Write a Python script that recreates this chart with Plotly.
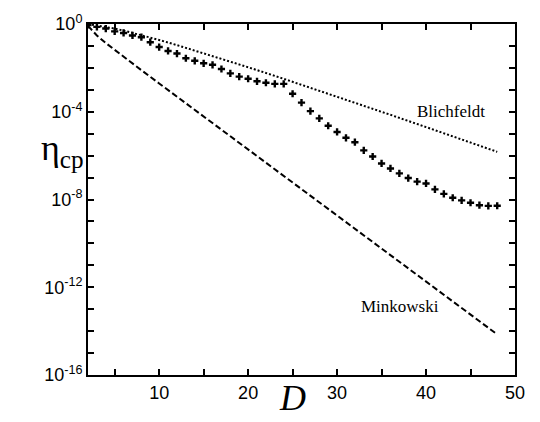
import plotly.graph_objects as go

# Dimension values
D_cross = list(range(2, 49))
eta_cross = [0.907, 0.74, 0.62, 0.46, 0.39, 0.30, 0.25, 0.148, 0.089, 0.059,
             0.045, 0.0275, 0.021, 0.0162, 0.0138, 0.0089, 0.0056, 0.0040, 0.0032, 0.00245,
             0.0021, 0.00186, 0.00186, 6.6e-4, 2.6e-4, 1.07e-4, 5.0e-5, 2.3e-5, 1.2e-5, 6.5e-6,
             4.1e-6, 1.74e-6, 9.1e-7, 4.4e-7, 2.6e-7, 1.55e-7, 9.5e-8, 6.5e-8, 5.4e-8, 2.9e-8,
             1.8e-8, 1.2e-8, 9.1e-9, 7.1e-9, 5.5e-9, 5.1e-9, 5.2e-9]

D_line = [2, 3, 4, 5, 6, 8, 10, 12, 16, 20, 24, 28, 32, 36, 40, 44, 48]
eta_minkowski = [0.822, 0.30, 0.135, 0.0649, 0.0318, 7.85e-3, 1.95e-3, 4.89e-4, 3.05e-5,
                 1.91e-6, 1.19e-7, 7.45e-9, 4.66e-10, 2.91e-11, 1.82e-12, 1.14e-13, 7.1e-15]
eta_blichfeldt = [1.0, 0.866, 0.75, 0.619, 0.5, 0.3125, 0.1875, 0.109, 0.0352,
                  0.0107, 3.17e-3, 9.16e-4, 2.59e-4, 7.25e-5, 2.0e-5, 5.48e-6, 1.49e-6]

x_ticks = [5, 10, 15, 20, 25, 30, 35, 40, 45, 50]
x_ticktext = ["", "10", "", "20", "", "30", "", "40", "", "50"]
y_exps = list(range(0, -17, -1))
y_ticks = [10.0 ** e for e in y_exps]
y_ticktext = [("10<sup>%d</sup>" % e) if e % 4 == 0 else "" for e in y_exps]

fig = go.Figure()
fig.add_trace(go.Scatter(x=D_line, y=eta_blichfeldt, mode="lines",
                         line=dict(color="black", width=2, dash="2px,2px")))
fig.add_trace(go.Scatter(x=D_line, y=eta_minkowski, mode="lines",
                         line=dict(color="black", width=2, dash="6px,3px")))
fig.add_trace(go.Scatter(x=D_cross, y=eta_cross, mode="markers",
                         marker=dict(symbol="cross", size=6, color="black")))

fig.update_layout(
    width=540, height=422,
    margin=dict(l=88, r=25, t=17, b=47),
    paper_bgcolor="white", plot_bgcolor="white",
    showlegend=False,
    font=dict(family="Liberation Sans, Arial", color="black", size=18),
)
fig.update_xaxes(range=[2, 50], tickvals=x_ticks, ticktext=x_ticktext,
                 ticks="inside", ticklen=6, tickwidth=1.5, tickcolor="black",
                 showline=True, linewidth=2, linecolor="black", mirror="ticks",
                 showgrid=False, zeroline=False,
                 tickfont=dict(family="Liberation Sans, Arial", size=18))
fig.update_yaxes(type="log", range=[-16, 0], tickvals=y_ticks, ticktext=y_ticktext,
                 ticks="inside", ticklen=6, tickwidth=1.5, tickcolor="black",
                 showline=True, linewidth=2, linecolor="black", mirror="ticks",
                 showgrid=False, zeroline=False,
                 tickfont=dict(family="Liberation Sans, Arial", size=18))

fig.add_annotation(x=42.8, y=-4.0, xref="x", yref="y", text="Blichfeldt", showarrow=False,
                   font=dict(family="Liberation Serif, Times New Roman", size=17, color="black"))
fig.add_annotation(x=37.1, y=-12.9, xref="x", yref="y", text="Minkowski", showarrow=False,
                   font=dict(family="Liberation Serif, Times New Roman", size=17, color="black"))
fig.add_annotation(x=-0.115, y=0.64, xref="paper", yref="paper", text="η<sub>cp</sub>",
                   showarrow=False,
                   font=dict(family="Liberation Serif, Times New Roman", size=36, color="black"))
fig.add_annotation(x=0.48, y=-0.065, xref="paper", yref="paper", text="<i>D</i>",
                   showarrow=False, yanchor="middle",
                   font=dict(family="Liberation Serif, Times New Roman", size=36, color="black"))

fig.write_html("out.html")
